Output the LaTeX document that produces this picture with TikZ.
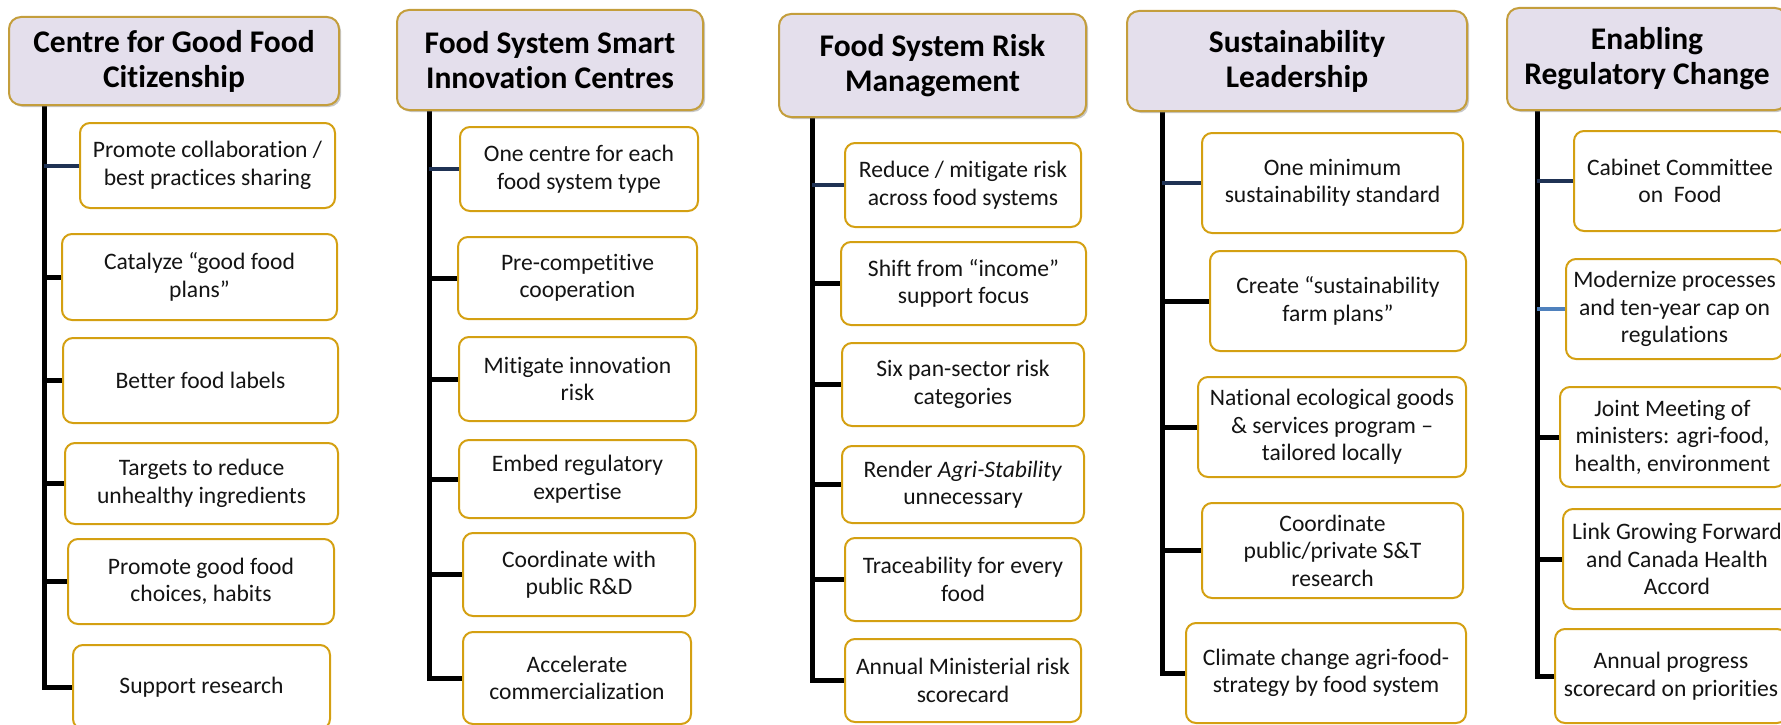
\documentclass[tikz,border=0pt]{standalone}
\usepackage{fontspec}
\setmainfont{Carlito}[Ligatures=NoCommon]
\usetikzlibrary{shadows,backgrounds}
\definecolor{gold}{RGB}{212,160,18}
\definecolor{hgold}{RGB}{196,158,60}
\definecolor{hfill}{RGB}{228,223,236}
\definecolor{navy}{RGB}{31,50,84}
\definecolor{steel}{RGB}{79,129,189}
\tikzset{
 itembox/.style={draw=gold, line width=2pt, rounded corners=10pt, fill=white, align=center, inner sep=0pt, text=black!92, font=\fontsize{23.6}{27.5}\selectfont},
 headbox/.style={draw=hgold, line width=2pt, rounded corners=12pt, fill=hfill, align=center, inner sep=0pt, font=\fontsize{31.5}{35}\selectfont\bfseries, drop shadow={shadow xshift=2pt, shadow yshift=-2pt, opacity=0.4, fill=black!55}},
 trunk/.style={line width=5pt, black, line join=miter},
 link/.style={line width=5pt, black},
 navylink/.style={line width=4pt, navy},
 steellink/.style={line width=4pt, steel},
}
\newcommand{\bx}[7][itembox]{\node[#1, minimum width={(#5-#3)*1pt}, minimum height={(#6-#4)*1pt}] (#2) at ({(#3+#5)/2},{(#4+#6)/2}) {#7};}
\begin{document}
\begin{tikzpicture}[x=1pt,y=-1pt]
\useasboundingbox (0,0) rectangle (1781,725);
\clip (0,0) rectangle (1781,725);
% ---------- column 1
\bx[headbox]{h1}{9}{17}{339}{105}{Centre for Good Food\\Citizenship}
\bx{b11}{80}{123}{335}{208}{Promote collaboration /\\best practices sharing}
\bx{b12}{62}{234}{337}{320}{Catalyze “good food\\plans”}
\bx{b13}{63}{338}{338}{423}{Better food labels}
\bx{b14}{65}{443}{338}{524}{Targets to reduce\\unhealthy ingredients}
\bx{b15}{68}{539}{334}{624}{Promote good food\\choices, habits}
\bx{b16}{73}{645}{330}{729}{Support research}
\coordinate (t1) at (44,105);
% ---------- column 2
\bx[headbox]{h2}{397}{10}{703}{110}{Food System Smart\\Innovation Centres}
\bx{b21}{460}{127}{698}{211}{One centre for each\\food system type}
\bx{b22}{458}{237}{697}{319}{Pre-competitive\\cooperation}
\bx{b23}{459}{337}{696}{421}{Mitigate innovation\\risk}
\bx{b24}{459}{440}{696}{518}{Embed regulatory\\expertise}
\bx{b25}{463}{533}{695}{616}{Coordinate with\\public R\&D}
\bx{b26}{463}{632}{691}{724}{Accelerate\\commercialization}
\coordinate (t2) at (429,110);
% ---------- column 3
\bx[headbox]{h3}{779}{14}{1086}{117}{Food System Risk\\Management}
\bx{b31}{845}{143}{1081}{227}{Reduce / mitigate risk\\across food systems}
\bx{b32}{841}{242}{1086}{325}{Shift from “income”\\support focus}
\bx{b33}{842}{343}{1084}{426}{Six pan-sector risk\\categories}
\bx{b34}{842}{446}{1084}{523}{Render \textit{Agri-Stability}\\unnecessary}
\bx{b35}{845}{538}{1081}{621}{Traceability for every\\food}
\bx{b36}{845}{639}{1081}{722}{Annual Ministerial risk\\scorecard}
\coordinate (t3) at (812,117);
% ---------- column 4
\bx[headbox]{h4}{1127}{11}{1467}{111}{Sustainability\\Leadership}
\bx{b41}{1202}{133}{1463}{233}{One minimum\\sustainability standard}
\bx{b42}{1210}{251}{1466}{351}{Create “sustainability\\farm plans”}
\bx{b43}{1198}{377}{1466}{477}{National ecological goods\\\& services program –\\tailored locally}
\bx{b44}{1202}{503}{1463}{598}{Coordinate\\public/private S\&T\\research}
\bx{b45}{1186}{623}{1466}{723}{Climate change agri-food-\\strategy by food system}
\coordinate (t4) at (1162,111);
% ---------- column 5
\bx[headbox]{h5}{1507}{8}{1787}{110}{Enabling\\Regulatory Change}
\bx{b51}{1574}{131}{1786}{231}{Cabinet Committee\\on~ Food}
\bx{b52}{1566}{259}{1783}{359}{Modernize processes\\and ten-year cap on\\regulations}
\bx{b53}{1560}{387}{1785}{487}{Joint Meeting of\\ministers: agri-food,\\health, environment}
\bx{b54}{1563}{509}{1791}{609}{Link Growing Forward\\and Canada Health\\Accord}
\bx{b55}{1555}{629}{1787}{723}{Annual progress\\scorecard on priorities}
\coordinate (t5) at (1537,110);
% ---------- connectors
\begin{pgfonlayer}{background}
\foreach \c/\n in {1/6,2/6,3/6,4/5,5/5}{
  \draw[trunk] (t\c) -- (t\c |- b\c\n.west) -- (b\c\n.west);
  \draw[navylink] (t\c |- b\c1.west) -- (b\c1.west);
}
\foreach \b in {12,13,14,15,22,23,24,25,32,33,34,35,36,42,43,44,53,54}{
  \pgfmathtruncatemacro{\cc}{\b/10}
  \draw[link] (t\cc |- b\b.west) -- (b\b.west);
}
\draw[steellink] (t5 |- b52.west) -- (b52.west);
\end{pgfonlayer}
\end{tikzpicture}
\end{document}
